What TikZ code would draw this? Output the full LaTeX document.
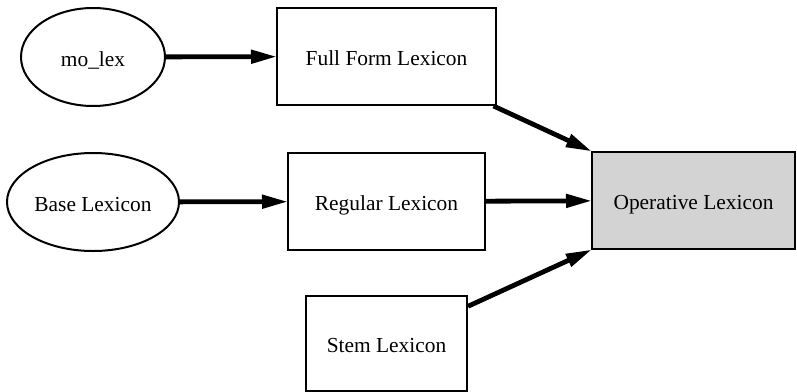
\documentclass[tikz,border=0pt]{standalone}
\usepackage{fontspec}
\setmainfont{Liberation Serif}
\usetikzlibrary{shapes.geometric,arrows.meta}
\begin{document}
\begin{tikzpicture}[x=1pt,y=-1pt,
  every node/.style={font=\fontsize{21.4}{25}\selectfont, line width=2pt, draw,
    inner sep=0pt, text height=18.5pt, text depth=0pt},
  src/.style={ellipse, minimum height=98pt},
  lexbox/.style={rectangle, minimum height=97pt},
  flow/.style={line width=4.8pt, -{Triangle[length=26pt,width=13pt]}, shorten >=-1pt}
]
\useasboundingbox (0,0) rectangle (797,391);

\node[src, minimum width=144pt] (molex) at (93,57) {mo\_lex};
\node[src, minimum width=172pt] (base) at (93,202) {Base Lexicon};

\node[lexbox, minimum width=219pt] (full) at (386.5,56.5) {Full Form Lexicon};
\node[lexbox, minimum width=197pt] (regular) at (386.5,201.5) {Regular Lexicon};
\node[lexbox, minimum width=161pt, minimum height=95pt] (stem) at (386.5,343.5) {Stem Lexicon};
\node[lexbox, minimum width=203pt, fill={rgb,255:red,211;green,211;blue,211}] (oper) at (693.5,200.5) {Operative Lexicon};

\draw[flow] (molex) -- (full);
\draw[flow] (base) -- (regular);
\draw[flow] (regular) -- (oper);
\draw[flow] (full) -- (oper.north west);
\draw[flow] (stem) -- (oper.south west);
\end{tikzpicture}
\end{document}
